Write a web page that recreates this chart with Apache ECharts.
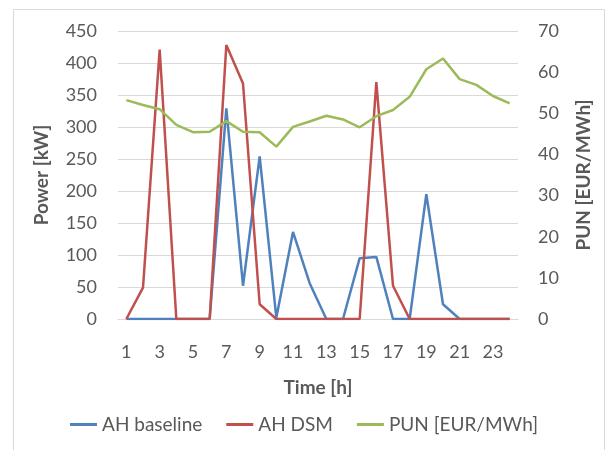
<!DOCTYPE html>
<html><head><meta charset="utf-8">
<script src="https://cdn.jsdelivr.net/npm/echarts@6/dist/echarts.min.js"></script>
<style>html,body{margin:0;padding:0;background:#fff}#c{width:608px;height:450px}</style>
</head><body><div id="c"></div>
<script>
const hours = ['1','2','3','4','5','6','7','8','9','10','11','12','13','14','15','16','17','18','19','20','21','22','23','24'];
const ahBaseline = [0,0,0,0,0,0,329,52,254,2,136,56,0,0,95,97,0,0,195,23,0,0,0,0];
const ahDSM = [0,49,421,0,0,0,428,368,23,0,0,0,0,0,0,370,52,0,0,0,0,0,0,0];
const pun = [53.2,52.0,51.0,47.2,45.4,45.5,48.1,45.5,45.4,41.9,46.7,48.0,49.4,48.5,46.6,49.3,50.8,54.0,60.7,63.3,58.3,56.9,54.2,52.4];
const leftTicks = {min:0,max:450,interval:50};
const rightTicks = {min:0,max:70,interval:10};

const FONT = 'Lato';
const chart = echarts.init(document.getElementById('c'), null, {renderer:'canvas'});
chart.setOption({
  animation:false,
  textStyle:{fontFamily:FONT},
  graphic:[{type:'rect',shape:{x:13.5,y:9.5,width:591,height:460},style:{fill:'none',stroke:'#D9D9D9',lineWidth:1},silent:true}],
  grid:{left:118,right:90,top:31,bottom:131,containLabel:false},
  legend:{
    bottom:11,left:'center',icon:'rect',itemWidth:27,itemHeight:3,itemGap:24,
    textStyle:{color:'#595959',fontSize:19,fontFamily:FONT},
    data:['AH baseline','AH DSM','PUN [EUR/MWh]']
  },
  xAxis:{
    type:'category',data:hours,boundaryGap:true,
    name:'Time [h]',nameLocation:'middle',nameGap:59,
    nameTextStyle:{color:'#595959',fontSize:19,fontWeight:'bold',fontFamily:FONT},
    axisLine:{show:true,lineStyle:{color:'#D9D9D9'}},axisTick:{show:false},
    axisLabel:{interval:1,color:'#595959',fontSize:18,margin:24,fontFamily:FONT}
  },
  yAxis:[{
    type:'value',min:leftTicks.min,max:leftTicks.max,interval:leftTicks.interval,
    name:'Power [kW]',nameLocation:'middle',nameGap:67,nameRotate:90,
    nameTextStyle:{color:'#595959',fontSize:19,fontWeight:'bold',fontFamily:FONT},
    axisLine:{show:false},axisTick:{show:false},
    axisLabel:{color:'#595959',fontSize:18,margin:21,fontFamily:FONT},
    splitLine:{lineStyle:{color:'#D9D9D9',width:1}}
  },{
    type:'value',min:rightTicks.min,max:rightTicks.max,interval:rightTicks.interval,position:'right',
    name:'PUN [EUR/MWh]',nameLocation:'middle',nameGap:56,nameRotate:90,
    nameTextStyle:{color:'#595959',fontSize:19,fontWeight:'bold',fontFamily:FONT},
    axisLine:{show:false},axisTick:{show:false},
    axisLabel:{color:'#595959',fontSize:18,margin:20,fontFamily:FONT},
    splitLine:{show:false}
  }],
  series:[
    {name:'AH baseline',type:'line',data:ahBaseline,yAxisIndex:0,symbol:'none',lineStyle:{color:'#4F81BD',width:2.5},itemStyle:{color:'#4F81BD'},z:2},
    {name:'AH DSM',type:'line',data:ahDSM,yAxisIndex:0,symbol:'none',lineStyle:{color:'#C0504D',width:2.5},itemStyle:{color:'#C0504D'},z:3},
    {name:'PUN [EUR/MWh]',type:'line',data:pun,yAxisIndex:1,symbol:'none',lineStyle:{color:'#9BBB59',width:2.5},itemStyle:{color:'#9BBB59'},z:4}
  ]
});
</script></body></html>
